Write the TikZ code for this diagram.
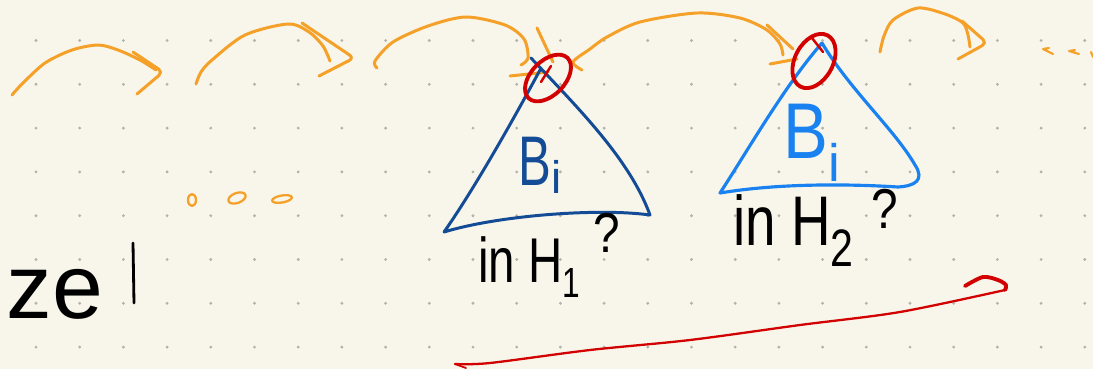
\documentclass[tikz,border=0pt]{standalone}
\usepackage{fontspec}
\setmainfont{Liberation Sans}
\usepackage{graphicx,xcolor}
\definecolor{paper}{RGB}{248,246,234}
\definecolor{dotgray}{RGB}{178,178,172}
\definecolor{penorange}{RGB}{245,160,40}
\definecolor{penred}{RGB}{210,0,0}
\definecolor{darkblue}{RGB}{20,75,150}
\definecolor{lightblue}{RGB}{25,130,240}
\usetikzlibrary{positioning, calc}

\begin{document}
\begin{tikzpicture}[x=0.02cm, y=-0.02cm, line cap=round, line join=round,
      orangepen/.style={draw=penorange, line width=1.7pt},
      redpen/.style={draw=penred, line width=2.2pt},
      darkpen/.style={draw=darkblue, line width=1.7pt},
      lightpen/.style={draw=lightblue, line width=1.8pt},
      bigb/.style={anchor=base west, inner sep=0pt},
      hand/.style={anchor=base west, inner sep=0pt, text=black}]
    % --- paper and dot grid ---
    \fill[paper] (0,0) rectangle (1093,369);
    \useasboundingbox (0,0) rectangle (1093,369);
    \foreach \i in {0,...,24}
      \foreach \j in {0,...,7}
        \fill[dotgray] ({36+43.7*\i},{40.5+43.8*\j}) circle (0.9pt);
    % --- orange hops along the top ---
    \draw[orangepen] plot[smooth] coordinates {(12,95) (22,84) (45,63) (72,50) (98,45) (118,50) (140,60) (156,70)};
    \draw[orangepen, rounded corners=3pt] (133,52) -- (163,72) -- (137,94);
    \draw[orangepen] plot[smooth] coordinates {(196,84) (201,72) (212,60) (245,35) (288,24) (309,32) (323,46) (330,61)};
    \draw[orangepen, rounded corners=3pt] (302,23) -- (354,58) -- (319,76);
    \draw[orangepen] plot[smooth] coordinates {(377,68) (375,61) (393,42) (428,26) (466,17) (505,25) (524,39) (528,58) (521,65)};
    \draw[orangepen] (537,28) -- (553,62);
    \draw[orangepen] (510,76) -- (548,72);
    \draw[orangepen] plot[smooth] coordinates {(582,70) (573,62) (590,49) (607,37) (640,22) (697,13) (740,18) (767,30) (780,44) (783,55)};
    \draw[orangepen] (767,25) -- (793,49);
    \draw[orangepen] (770,64) -- (797,59);
    \draw[orangepen] plot[smooth] coordinates {(880,52) (884,36) (893,20) (918,8) (945,14) (963,23) (968,35) (970,47)};
    \draw[orangepen, rounded corners=3pt] (962,21) -- (987,43) -- (958,59);
    % trailing marks
    \draw[orangepen, line width=1.2pt] (1053,54) -- (1043,49) -- (1049,48);
    \draw[orangepen, line width=1.2pt] (1079,54) -- (1069,51) -- (1075,50);
    \draw[orangepen, line width=1.2pt] (1093,57) -- (1091,52);
    % --- small orange ellipsis ---
    \draw[orangepen, line width=1.3pt] (192,200) ellipse[x radius=4, y radius=6];
    \draw[orangepen, line width=1.3pt, rotate around={20:(237,198)}] (237,198) ellipse[x radius=9, y radius=5];
    \draw[orangepen, line width=1.3pt, rotate around={10:(282,199)}] (282,199) ellipse[x radius=10, y radius=3.5];
    % --- first tree (dark blue) ---
    \coordinate (topone) at (531,58);
    \draw[darkpen] (topone) .. controls (580,110) and (630,160) .. (650,215)
      .. controls (600,208) and (500,215) .. (444,232)
      .. controls (470,195) and (505,135) .. (540,70);
    \node[bigb, text=darkblue, font=\fontsize{40}{40}\selectfont] (bdark) at (518,185)
      {\scalebox{0.7}[1]{B}\raisebox{-0.12em}{\fontsize{26}{26}\selectfont i}};
    \draw[redpen, rotate around={46:(548,78)}] (548,78) ellipse[x radius=28, y radius=17];
    \draw[redpen, line width=1.4pt] (541,82) -- (551,66);
    \node[hand, font=\fontsize{36}{36}\selectfont] (inone) at (478,282)
      {\scalebox{0.75}[1]{in H\raisebox{-0.25em}{\fontsize{24}{24}\selectfont 1}}};
    \node[hand, anchor=base, font=\fontsize{32}{32}\selectfont] (qone) at (607,252) {\scalebox{0.85}[1]{?}};
    % --- second tree (light blue) ---
    \coordinate (toptwo) at (822,43);
    \draw[lightpen] (toptwo) .. controls (850,90) and (895,130) .. (915,165)
      .. controls (925,180) and (915,186) .. (898,187)
      .. controls (850,184) and (780,183) .. (720,193)
      .. controls (745,155) and (785,85) .. (toptwo);
    \node[bigb, text=lightblue, font=\fontsize{45}{45}\selectfont] (blight) at (783,158)
      {\scalebox{0.85}[1]{B}\raisebox{-0.3em}{\fontsize{30}{30}\selectfont i}};
    \draw[redpen, rotate around={62:(814,61)}] (814,61) ellipse[x radius=29, y radius=19];
    \draw[redpen, line width=1.4pt] (812,38) -- (823,52);
    \node[hand, font=\fontsize{40}{40}\selectfont] (intwo) at (733,245)
      {\scalebox{0.78}[1]{in H\raisebox{-0.3em}{\fontsize{30}{30}\selectfont 2}}};
    \node[hand, anchor=base, font=\fontsize{32}{32}\selectfont] (qtwo) at (885,228) {\scalebox{0.85}[1]{?}};
    % --- word on the left ---
    \node[hand, font=\fontsize{52}{52}\selectfont] (zetext) at (6,318) {ze};
    \draw[black, line width=1.6pt] (133,243) -- (134,303);
    % --- long red arrow at the bottom ---
    \draw[penred, line width=1.3pt] plot[smooth] coordinates {(455,364) (490,363) (590,350) (690,340) (800,325) (900,312) (1005,290)};
    \draw[penred, line width=2.2pt] plot[smooth] coordinates {(1005,290) (1006,285) (998,280) (983,277) (965,286)};
    \draw[penred, line width=1pt] (455,364) -- (466,368);
  \end{tikzpicture}
\end{document}
